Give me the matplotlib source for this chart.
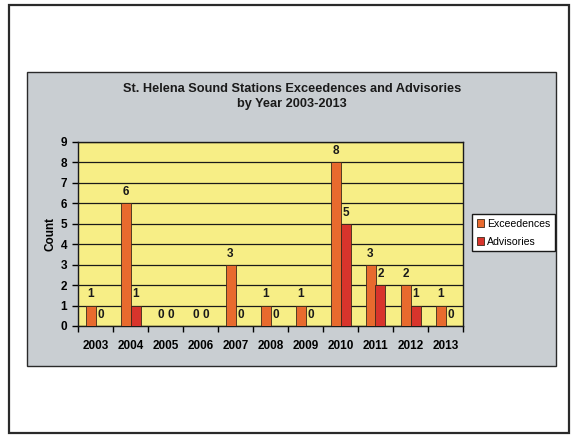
import matplotlib.pyplot as plt
import numpy as np
from matplotlib.patches import Rectangle

years = ["2003", "2004", "2005", "2006", "2007", "2008", "2009", "2010", "2011", "2012", "2013"]
exceedences = [1, 6, 0, 0, 3, 1, 1, 8, 3, 2, 1]
advisories = [0, 1, 0, 0, 0, 0, 0, 5, 2, 1, 0]

plt.rcParams["font.family"] = ["Liberation Sans", "DejaVu Sans"]

W, H = 574, 436
fig = plt.figure(figsize=(W / 100, H / 100), dpi=100)
fig.patch.set_facecolor("white")


def px(x0, y0, x1, y1):
    # pixel box (top-left origin) -> figure fraction
    return [x0 / W, 1 - y1 / H, (x1 - x0) / W, (y1 - y0) / H]


# outer page frame and grey chart area, kept behind the axes
fig.patches.append(Rectangle((9 / W, 1 - 433 / H), 560 / W, 428 / H, transform=fig.transFigure,
                             fill=False, edgecolor="#2a2a2a", linewidth=1.6, zorder=-2))
fig.patches.append(Rectangle((27 / W, 1 - 366 / H), 529 / W, 294 / H, transform=fig.transFigure,
                             facecolor="#c9ced2", edgecolor="#2a2a2a", linewidth=1.0, zorder=-1))

ax = fig.add_axes(px(78, 142, 463, 326))
ax.set_facecolor("#f7ee86")

x = np.arange(len(years))
w = 1 / 3.5
b1 = ax.bar(x - w / 2, exceedences, w, color="#e86a2e", edgecolor="#3a2a1a", linewidth=0.6,
            label="Exceedences", zorder=3)
b2 = ax.bar(x + w / 2, advisories, w, color="#d8342c", edgecolor="#3a2a1a", linewidth=0.6,
            label="Advisories", zorder=3)

for bars, vals in ((b1, exceedences), (b2, advisories)):
    for bar, v in zip(bars, vals):
        ax.text(bar.get_x() + bar.get_width() / 2, v + 0.25, str(v), ha="center", va="bottom",
                fontsize=8.5, fontweight="bold", color="#1a1a1a", zorder=4)

ax.set_xlim(-0.5, len(years) - 0.5)
ax.set_ylim(0, 9)
ax.set_yticks(range(10))
ax.yaxis.grid(True, color="#1a1a1a", linewidth=0.9, zorder=1)
ax.set_axisbelow(True)

ax.set_xticks(np.arange(len(years) + 1) - 0.5)
ax.set_xticklabels([])
ax.set_xticks(x, minor=True)
ax.set_xticklabels(years, minor=True, fontsize=8.5, fontweight="bold")
ax.tick_params(axis="x", which="major", direction="out", length=4, width=1)
ax.tick_params(axis="x", which="minor", length=0, pad=10)
ax.tick_params(axis="y", direction="out", length=4, width=1, labelsize=8.5, pad=4)
for lab in ax.get_yticklabels():
    lab.set_fontweight("bold")

for s in ax.spines.values():
    s.set_color("#1a1a1a")
    s.set_linewidth(1.0)

ax.set_ylabel("Count", fontsize=8.5, fontweight="bold", labelpad=3)

fig.text(292 / W, 1 - 89 / H, "St. Helena Sound Stations Exceedences and Advisories",
         ha="center", va="center", fontsize=9.2, fontweight="bold", color="#1a1a1a")
fig.text(292 / W, 1 - 104 / H, "by Year 2003-2013",
         ha="center", va="center", fontsize=9.2, fontweight="bold", color="#1a1a1a")

leg = fig.legend(handles=[b1, b2], loc="upper left", bbox_to_anchor=(472 / W, 1 - 214 / H),
                 fontsize=7.6, frameon=True, fancybox=False, handlelength=0.7,
                 handleheight=0.8, handletextpad=0.3, borderpad=0.45, labelspacing=0.75,
                 borderaxespad=0)
leg.get_frame().set_edgecolor("#1a1a1a")
leg.get_frame().set_linewidth(1.0)
leg.get_frame().set_alpha(1)

fig.savefig("out.png", dpi=100, facecolor="white")
